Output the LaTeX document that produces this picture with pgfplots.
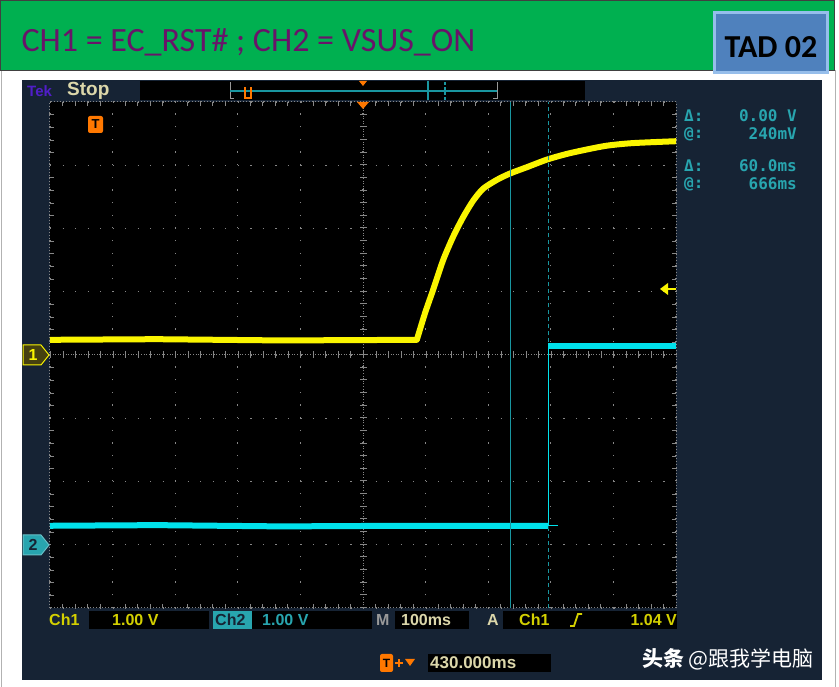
\documentclass[border=0pt]{standalone}
\usepackage{pgfplots}
\pgfplotsset{compat=1.18}
\usepackage{fontspec}
\setmainfont{Liberation Sans}
\newfontfamily\cali{Carlito}
\newfontfamily\mono{DejaVu Sans Mono}
\newfontfamily\cjk{Noto Sans CJK SC}
\newcommand\fs[1]{\fontsize{#1}{#1}\selectfont}
\definecolor{bannergreen}{RGB}{0,176,80}
\definecolor{titlepurple}{RGB}{105,20,105}
\definecolor{tadblue}{RGB}{79,129,189}
\definecolor{tadedge}{RGB}{150,190,235}
\definecolor{panel}{RGB}{22,35,52}
\definecolor{scyellow}{RGB}{250,245,0}
\definecolor{sccyan}{RGB}{0,225,235}
\definecolor{cursorc}{RGB}{25,150,160}
\definecolor{readout}{RGB}{40,165,175}
\definecolor{scorange}{RGB}{255,120,0}
\definecolor{beige}{RGB}{220,215,170}
\definecolor{tekpurple}{RGB}{80,30,200}
\definecolor{gridgray}{RGB}{135,135,135}
\definecolor{olive}{RGB}{70,65,15}
\begin{document}
\begin{tikzpicture}[x=1pt,y=1pt]
\fill[white] (0,0) rectangle (839,687);
\path[use as bounding box] (0,0) rectangle (839,687);
% frame
\draw[gray!60, line width=1pt] (1.5,0) -- (1.5,617);
\draw[gray!60, line width=1pt] (835,0) -- (835,617);
% banner
\fill[bannergreen] (0,617) rectangle (835,687);
\draw[black!75, line width=1.2pt] (0.6,616.5) rectangle (834.4,686.4);
\node[anchor=west, text=titlepurple, font=\cali\fs{34}] at (18,645) {CH1 = EC\_RST\# ; CH2 = VSUS\_ON};
\fill[tadedge] (713,613) rectangle (829,676);
\fill[tadblue] (716,616) rectangle (826,673);
\node[text=black, font=\cali\bfseries\fs{32}] at (771,640) {TAD 02};
% scope panel
\fill[panel] (22,7) rectangle (822,607);
% top bar
\node[anchor=west, text=tekpurple, font=\bfseries\fs{15}, inner sep=0] at (27,596) {Tek};
\node[anchor=west, text=beige, font=\bfseries\fs{19}, inner sep=0] at (67,596) {Stop};
\fill[black] (140,587) rectangle (585,606);
\draw[gray!80, line width=1pt] (230,588) -- (230,605) (497,588) -- (497,605);
\draw[gray!80, line width=1pt] (230,588) -- (234,588) (497,588) -- (493,588);
\draw[cursorc, line width=1.2pt] (230,596) -- (497,596);
\draw[scorange, line width=2pt] (245,600) -- (245,589) -- (251,589) -- (251,600);
\fill[scorange] (359,606) -- (367,606) -- (363,601) -- cycle;
\draw[cursorc, line width=1.2pt] (428,587) -- (428,606);
\draw[cursorc, line width=1.2pt, dash pattern=on 3pt off 2pt] (445,587) -- (445,606);
\begin{axis}[at={(50pt,79pt)}, anchor=south west, scale only axis,
  width=626pt, height=506pt,
  xmin=-70, xmax=930, ymin=-4, ymax=4,
  axis background/.style={fill=black},
  xtick={-70,30,...,930}, ytick={-4,-3,...,4},
  xticklabels={}, yticklabels={},
  major tick length=0pt,
  minor x tick num=4, minor y tick num=4, minor tick length=4pt,
  tick style={gridgray, line width=0.8pt},
  grid=major,
  major x grid style={gridgray, line width=1.2pt, dash pattern=on 1.2pt off 11.45pt},
  major y grid style={gridgray, line width=1.2pt, dash pattern=on 1.2pt off 11.32pt},
  axis line style={gridgray, line width=1pt, dash pattern=on 1pt off 2pt},
  clip=true]
% center crosshair
\draw[gridgray, line width=1pt, dash pattern=on 1pt off 1.6pt] (axis cs:430,-4) -- (axis cs:430,4);
\draw[gridgray, line width=1pt, dash pattern=on 1pt off 1.6pt] (axis cs:-70,0) -- (axis cs:930,0);
\draw[gridgray, line width=7pt, dash pattern=on 1pt off 11.65pt] (axis cs:430,-4) -- (axis cs:430,4);
\draw[gridgray, line width=7pt, dash pattern=on 1pt off 11.52pt] (axis cs:-70,0) -- (axis cs:930,0);
% CH2 (offset -3 div)
\addplot[sccyan, line width=6pt, line cap=butt] coordinates {(-70,-2.70) (100,-2.69) (300,-2.71) (500,-2.70) (726,-2.70)};
\addplot[sccyan, line width=1.2pt] coordinates {(726,-2.70) (726,0.14)};
\addplot[sccyan, line width=6pt, line cap=butt] coordinates {(726,0.14) (930,0.14)};
\addplot[sccyan, line width=1.2pt] coordinates {(726,-2.70) (742,-2.70)};
% CH1
\addplot[scyellow, line width=6pt, line join=round, line cap=butt] coordinates {
 (-70,0.24) (100,0.25) (300,0.23) (516,0.24)};
\addplot[scyellow, line width=6pt, line join=round, line cap=round, smooth, tension=0.45] coordinates {
 (516,0.24) (529,0.66) (542,1.03) (558,1.50)
 (574,1.87) (590,2.18) (606,2.44) (622,2.63) (644,2.77) (665,2.87) (692,2.97)
 (724,3.09) (756,3.18) (788,3.25) (820,3.31) (861,3.35) (930,3.38)};
% cursors
\addplot[cursorc, line width=1.3pt] coordinates {(666,-4) (666,4)};
\addplot[cursorc, line width=1.3pt, dash pattern=on 4pt off 3pt] coordinates {(726,-4) (726,-2.75)};
\addplot[cursorc, line width=1.3pt, dash pattern=on 4pt off 3pt] coordinates {(726,0.2) (726,4)};
\end{axis}
% graticule decorations
\fill[scorange, rounded corners=2pt] (88,554) rectangle (103,571);
\node[text=black, font=\bfseries\fs{13}, inner sep=0] at (95.5,563) {T};
\fill[scorange] (357,585) -- (369,585) -- (363,578) -- cycle;
\fill[scyellow] (660,398) -- (668,404) -- (668,392) -- cycle;
\draw[scyellow, line width=2pt] (666,398) -- (676,398);
% channel markers
\filldraw[fill=olive, draw=scyellow, line width=1pt] (23,342) -- (41,342) -- (49,332) -- (41,322) -- (23,322) -- cycle;
\node[text=scyellow, font=\bfseries\fs{16}, inner sep=0] at (33,332) {1};
\filldraw[fill=readout, draw=readout!70!white, line width=1pt] (23,152) -- (41,152) -- (49,142) -- (41,132) -- (23,132) -- cycle;
\node[text=panel, font=\bfseries\fs{16}, inner sep=0] at (33,142) {2};
% readouts
\begin{scope}[font=\mono\bfseries\fs{16}, text=readout]
\node[anchor=west, inner sep=0] at (684,571) {Δ:};
\node[anchor=west, inner sep=0] at (684,553) {@:};
\node[anchor=east, inner sep=0] at (797,571) {0.00 V};
\node[anchor=east, inner sep=0] at (797,553) {240mV};
\node[anchor=west, inner sep=0] at (684,521) {Δ:};
\node[anchor=west, inner sep=0] at (684,503) {@:};
\node[anchor=east, inner sep=0] at (797,521) {60.0ms};
\node[anchor=east, inner sep=0] at (797,503) {666ms};
\end{scope}
% bottom row 1
\fill[black] (89,58) rectangle (209,76);
\fill[black] (252,58) rectangle (372,76);
\fill[black] (395,58) rectangle (469,76);
\fill[black] (503,58) rectangle (677,76);
\fill[readout] (213,58) rectangle (252,76);
\begin{scope}[font=\bfseries\fs{16}, inner sep=0]
\node[anchor=west, text=scyellow!85!black] at (49,67) {Ch1};
\node[anchor=west, text=scyellow!85!black] at (112,67) {1.00 V};
\node[anchor=west, text=panel] at (215,67) {Ch2};
\node[anchor=west, text=readout] at (262,67) {1.00 V};
\node[anchor=west, text=gray!80] at (376,67) {M};
\node[anchor=west, text=beige] at (401,67) {100ms};
\node[anchor=west, text=beige] at (487,67) {A};
\node[anchor=west, text=scyellow!85!black] at (519,67) {Ch1};
\node[anchor=east, text=scyellow!85!black] at (677,67) {1.04 V};
\end{scope}
\draw[scyellow!85!black, line width=1.8pt] (570,61) -- (574,61) -- (578,73) -- (582,73);
% bottom row 2
\fill[black] (428,15) rectangle (551,33);
\fill[scorange, rounded corners=2pt] (380,15) rectangle (393,33);
\node[text=black, font=\bfseries\fs{12}, inner sep=0] at (386.5,24) {T};
\draw[scorange, line width=1.3pt] (395,24) -- (403,24) (399,20) -- (399,28);
\fill[scorange] (405,28) -- (415,28) -- (410,21) -- cycle;
\node[anchor=west, text=beige, font=\bfseries\fs{17}, inner sep=0] at (430,24) {430.000ms};
% watermark
\node[anchor=west, text=white, font=\cjk\fs{21}, inner sep=0] at (642,28) {{\bfseries 头条} @跟我学电脑};
\end{tikzpicture}
\end{document}
